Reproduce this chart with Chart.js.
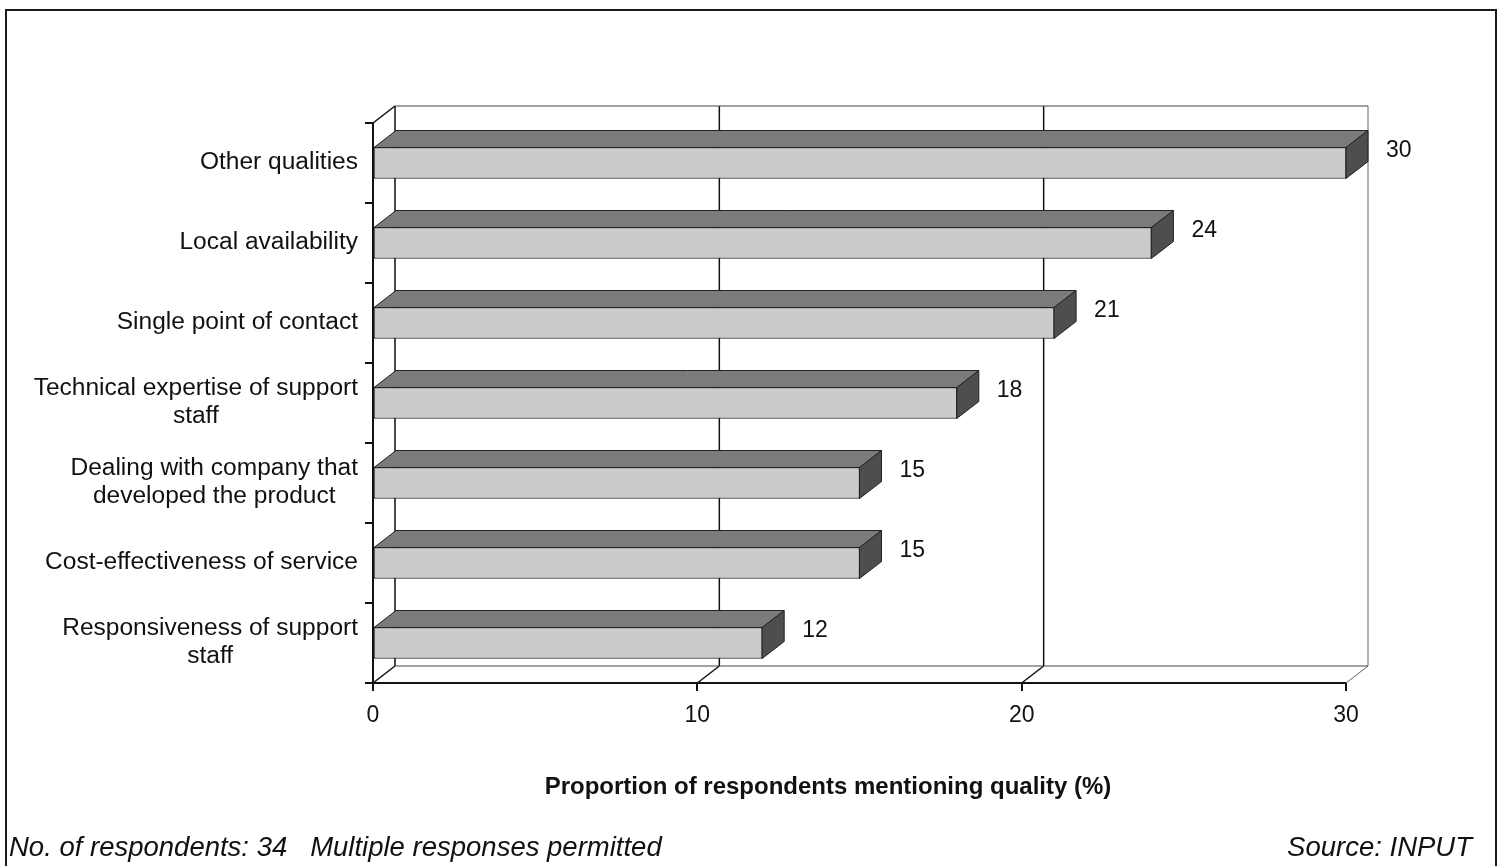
<!DOCTYPE html>
<html>
<head>
<meta charset="utf-8">
<script src="https://cdn.jsdelivr.net/npm/chart.js@4.4.1/dist/chart.umd.min.js"></script>
<style>
  body { margin: 0; background: #fff; }
  #wrap { position: relative; width: 1501px; height: 866px; overflow: hidden; background: #fff; }
  #chart { position: absolute; left: 0; top: 0; }
  .frame { position: absolute; left: 5px; top: 9px; width: 1488px; height: 900px; border: 2px solid #1a1a1a; }
  .note { position: absolute; top: 831px; font: italic 27.5px "Liberation Sans", Arial, sans-serif; line-height: 32px; color: #111; white-space: pre; }
  .note.left { left: 9px; }
  .note.right { right: 29px; }
</style>
</head>
<body>
<div id="wrap">
  <div class="frame"></div>
  <canvas id="chart" width="1501" height="866"></canvas>
  <div class="note left">No. of respondents: 34   Multiple responses permitted</div>
  <div class="note right">Source: INPUT</div>
</div>
<script>
const categories = [
  ['Other qualities'],
  ['Local availability'],
  ['Single point of contact'],
  ['Technical expertise of support', 'staff'],
  ['Dealing with company that', 'developed the product'],
  ['Cost-effectiveness of service'],
  ['Responsiveness of support', 'staff']
];
const values = [30, 24, 21, 18, 15, 15, 12];
const xTicks = [0, 10, 20, 30];
const xTitle = 'Proportion of respondents mentioning quality (%)';

// depth of the fake 3d box
const DX = 22, DY = -17;
const FONT = '"Liberation Sans", Arial, sans-serif';

const box3d = {
  id: 'box3d',
  beforeDatasetsDraw(chart) {
    const ctx = chart.ctx;
    const a = chart.chartArea;
    const xs = chart.scales.x;
    ctx.save();
    ctx.strokeStyle = '#111';
    ctx.lineWidth = 1.5;
    // back wall gridlines + floor diagonals
    xTicks.forEach(t => {
      const px = xs.getPixelForValue(t);
      ctx.beginPath();
      ctx.moveTo(px + DX, a.top + DY);
      ctx.lineTo(px + DX, a.bottom + DY);
      if (t === xTicks[xTicks.length - 1]) { ctx.strokeStyle = '#666'; ctx.lineWidth = 1; }
      ctx.stroke();
      ctx.beginPath();
      ctx.moveTo(px, a.bottom);
      ctx.lineTo(px + DX, a.bottom + DY);
      ctx.stroke();
      ctx.strokeStyle = '#111';
      ctx.lineWidth = 1.5;
    });
    // back wall top edge and back edge of the floor
    ctx.lineWidth = 1;
    ctx.strokeStyle = '#444';
    ctx.beginPath();
    ctx.moveTo(a.left + DX, a.top + DY);
    ctx.lineTo(a.right + DX, a.top + DY);
    ctx.stroke();
    ctx.beginPath();
    ctx.moveTo(a.left + DX, a.bottom + DY);
    ctx.lineTo(a.right + DX, a.bottom + DY);
    ctx.stroke();
    // left wall top edge
    ctx.strokeStyle = '#111';
    ctx.lineWidth = 1.5;
    ctx.beginPath();
    ctx.moveTo(a.left, a.top);
    ctx.lineTo(a.left + DX, a.top + DY);
    ctx.stroke();
    ctx.restore();
  },
  afterDatasetsDraw(chart) {
    const ctx = chart.ctx;
    const bars = chart.getDatasetMeta(0).data;
    ctx.save();
    ctx.lineWidth = 1;
    ctx.strokeStyle = '#222';
    bars.forEach((bar, i) => {
      const p = bar.getProps(['x', 'y', 'base', 'height'], true);
      const top = p.y - p.height / 2, bot = p.y + p.height / 2;
      // top face
      ctx.fillStyle = '#7b7b7b';
      ctx.beginPath();
      ctx.moveTo(p.base, top);
      ctx.lineTo(p.x, top);
      ctx.lineTo(p.x + DX, top + DY);
      ctx.lineTo(p.base + DX, top + DY);
      ctx.closePath();
      ctx.fill();
      ctx.stroke();
      // end face
      ctx.fillStyle = '#4e4e4e';
      ctx.beginPath();
      ctx.moveTo(p.x, top);
      ctx.lineTo(p.x + DX, top + DY);
      ctx.lineTo(p.x + DX, bot + DY);
      ctx.lineTo(p.x, bot);
      ctx.closePath();
      ctx.fill();
      ctx.stroke();
      // value label
      ctx.fillStyle = '#111';
      ctx.font = '23px ' + FONT;
      ctx.textAlign = 'left';
      ctx.textBaseline = 'middle';
      ctx.fillText(String(values[i]), p.x + DX + 18, p.y - 12);
    });
    ctx.restore();
  },
  afterDraw(chart) {
    const ctx = chart.ctx;
    const ys = chart.scales.y;
    const a = chart.chartArea;
    // category labels: lines centred within a block that is right-aligned
    ctx.save();
    ctx.font = '23px ' + FONT;
    ctx.fillStyle = '#111';
    ctx.textAlign = 'center';
    ctx.textBaseline = 'middle';
    const sx = 1.066;  // source type is a little wider than Arial
    const rightEdge = a.left - 15;
    categories.forEach((lines, i) => {
      const cy = ys.getPixelForValue(i);
      const w = Math.max(...lines.map(l => ctx.measureText(l).width)) * sx;
      const cx = rightEdge - w / 2;
      lines.forEach((l, j) => {
        const ly = cy + (j - (lines.length - 1) / 2) * 28;
        ctx.save();
        ctx.translate(cx, ly);
        ctx.scale(sx, 1);
        ctx.fillText(l, 0, 0);
        ctx.restore();
      });
    });
    // axis title
    ctx.font = 'bold 24px ' + FONT;
    ctx.fillText(xTitle, 828, 787);
    ctx.restore();
  }
};

new Chart(document.getElementById('chart'), {
  type: 'bar',
  data: {
    labels: categories,
    datasets: [{
      data: values,
      backgroundColor: '#cbcbcb',
      borderColor: '#222',
      borderWidth: 1,
      borderSkipped: false,
      barThickness: 31
    }]
  },
  options: {
    indexAxis: 'y',
    responsive: false,
    animation: false,
    layout: { padding: { left: 0, top: 123, right: 155, bottom: 0 } },
    plugins: { legend: { display: false }, tooltip: { enabled: false } },
    scales: {
      x: {
        min: 0,
        max: 30,
        afterBuildTicks: s => { s.ticks = xTicks.map(v => ({ value: v })); },
        afterFit: s => { s.height = 183; },
        grid: { drawOnChartArea: false, tickLength: 8, color: '#111', lineWidth: 2 },
        border: { color: '#111', width: 2 },
        ticks: { color: '#111', font: { family: FONT, size: 23 }, padding: 11, maxRotation: 0 }
      },
      y: {
        afterFit: s => { s.width = 373; },
        grid: { drawOnChartArea: false, tickLength: 8, color: '#111', lineWidth: 2, offset: true },
        border: { color: '#111', width: 2 },
        ticks: { display: false }
      }
    }
  },
  plugins: [box3d]
});
</script>
</body>
</html>
